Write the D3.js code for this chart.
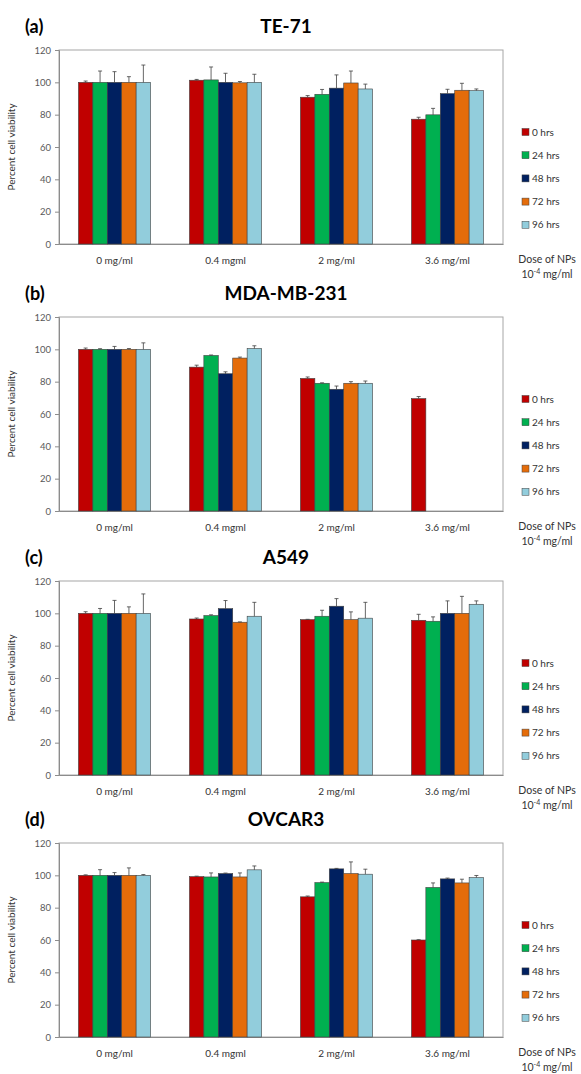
<!DOCTYPE html>
<html>
<head>
<meta charset="utf-8">
<script src="https://cdn.jsdelivr.net/npm/d3@7"></script>
<style>
  body { margin: 0; background: white; }
  svg { display: block; font-family: Lato, "Open Sans", sans-serif; }
</style>
</head>
<body>
<div id="chart"></div>
<script>
// categories
const doses = ["0 mg/ml", "0.4 mgml", "2 mg/ml", "3.6 mg/ml"]
const series = ["0 hrs", "24 hrs", "48 hrs", "72 hrs", "96 hrs"]
const colors = ["#c00000", "#00b050", "#002060", "#e46c0a", "#92cddc"]
const yTicks = [0, 20, 40, 60, 80, 100, 120]

// values: one row per dose, one column per series
const te71Values = [[100, 100, 100, 100, 100], [101.3, 101.5, 100, 99.7, 100], [90.8, 92.6, 96.4, 99.6, 95.9], [77.2, 79.9, 93, 95.1, 94.9]]
const te71Errors = [[0.8, 7, 6.6, 3.5, 10.7], [0.5, 8, 5.6, 0.8, 5], [1, 3, 8.2, 7.4, 3], [1.2, 4, 2.7, 4.3, 1]]

const mdaValues = [[100, 100, 100, 100, 100], [89, 96.2, 84.9, 94.6, 100.5], [82, 79, 75.3, 79, 79], [69.5, 0, 0, 0, 0]]
const mdaErrors = [[0.8, 0.4, 1.8, 0.5, 4], [1.2, 0.3, 1.2, 0.6, 1.7], [0.9, 0.3, 2, 1, 1.4], [1.3, 0, 0, 0, 0]]

const a549Values = [[100, 100, 100, 100, 100], [96.5, 98.6, 102.9, 94.5, 98.2], [96.1, 98.2, 104.4, 96.1, 97], [95.7, 95.1, 100, 100, 105.6]]
const a549Errors = [[1, 3, 8, 4, 12], [0.6, 0.5, 5, 0.2, 8.6], [0.2, 3.7, 4.7, 4.8, 9.8], [3.7, 2.7, 7.7, 10.5, 2.1]]

const ovcarValues = [[100, 100, 100, 100, 100], [99.2, 99, 101.1, 99, 103.4], [86.7, 95.5, 104, 101.1, 100.7], [60, 92.5, 97.8, 95.3, 98.6]]
const ovcarErrors = [[0.3, 3.5, 1.7, 4.6, 0.5], [0.3, 2.5, 0.3, 2.5, 2.4], [0.5, 0.3, 0.3, 7.2, 3.1], [0.2, 2.8, 0.5, 2.3, 1.3]]

const panels = [
  { letter: "(a)", title: "TE-71", top: 50, values: te71Values, errors: te71Errors },
  { letter: "(b)", title: "MDA-MB-231", top: 317, values: mdaValues, errors: mdaErrors },
  { letter: "(c)", title: "A549", top: 581, values: a549Values, errors: a549Errors },
  { letter: "(d)", title: "OVCAR3", top: 843, values: ovcarValues, errors: ovcarErrors }
]

const Width = 581, Height = 1074
const plotLeft = 59, plotRight = 503, plotHeight = 194

const svg = d3.select("#chart").append("svg")
  .attr("width", Width)
  .attr("height", Height)

const x0 = d3.scaleBand()
  .domain(doses)
  .range([plotLeft, plotRight])
  .paddingInner(0.35)
  .paddingOuter(0.175)

const x1 = d3.scaleBand()
  .domain(series)
  .range([0, x0.bandwidth()])

const drawPanel = (p) => {
  const g = svg.append("g")
  const y = d3.scaleLinear().domain([0, 120]).range([p.top + plotHeight, p.top])
  const bottom = p.top + plotHeight

  // 标题
  g.append("text")
    .attr("x", 25).attr("y", p.top - 17)
    .style("font-size", "18px").style("font-weight", "bold")
    .text(p.letter)
  g.append("text")
    .attr("x", 286).attr("y", p.top - 17)
    .attr("text-anchor", "middle")
    .style("font-size", "19px").style("font-weight", "bold")
    .text(p.title)

  // 边框
  g.append("rect")
    .attr("x", plotLeft).attr("y", p.top)
    .attr("width", plotRight - plotLeft).attr("height", plotHeight)
    .attr("fill", "none").attr("stroke", "#a6a6a6")

  // y 轴
  const yAxis = g.append("g")
    .attr("transform", `translate(${plotLeft},0)`)
    .call(d3.axisLeft(y).tickValues(yTicks).tickSize(4).tickPadding(4))
  yAxis.select(".domain").attr("stroke", "#8c8c8c")
  yAxis.selectAll(".tick line").attr("stroke", "#8c8c8c")
  yAxis.selectAll("text").style("font-size", "9.5px").attr("fill", "#595959").style("font-family", "Lato, sans-serif")

  g.append("text")
    .attr("transform", `translate(15,${p.top + plotHeight / 2}) rotate(-90)`)
    .attr("text-anchor", "middle")
    .style("font-size", "10px").attr("fill", "#333")
    .text("Percent cell viability")

  // x 轴
  const xAxis = g.append("g")
    .attr("transform", `translate(0,${bottom})`)
    .call(d3.axisBottom(x0).tickSize(0).tickPadding(13))
  xAxis.select(".domain").attr("stroke", "#8c8c8c")
  xAxis.selectAll("text").style("font-size", "10px").attr("fill", "#333").style("font-family", "Lato, sans-serif")

  // 柱子
  const groups = g.selectAll(".grp")
    .data(p.values.map((row, i) => ({ dose: doses[i], row, err: p.errors[i] })))
    .enter().append("g")
    .attr("transform", d => `translate(${x0(d.dose)},0)`)

  groups.selectAll("rect")
    .data(d => d.row.map((v, j) => ({ s: series[j], v, e: d.err[j], c: colors[j] })))
    .enter().append("rect")
    .attr("x", d => x1(d.s))
    .attr("y", d => y(d.v))
    .attr("width", x1.bandwidth())
    .attr("height", d => bottom - y(d.v))
    .attr("fill", d => d.c)
    .attr("stroke", d => d.v > 0 ? "#404040" : d.c)
    .attr("stroke-opacity", d => d.v > 0 ? 1 : 0.5)
    .attr("stroke-width", d => d.v > 0 ? 0.6 : 1)

  // 误差线（只画上半部分）
  const errs = groups.selectAll(".err")
    .data(d => d.row.map((v, j) => ({ s: series[j], v, e: d.err[j] })).filter(d => d.v > 0))
    .enter().append("g")
  errs.append("line")
    .attr("x1", d => x1(d.s) + x1.bandwidth() / 2)
    .attr("x2", d => x1(d.s) + x1.bandwidth() / 2)
    .attr("y1", d => y(d.v))
    .attr("y2", d => y(d.v + d.e))
    .attr("stroke", "#404040").attr("stroke-width", 0.8)
  errs.append("line")
    .attr("x1", d => x1(d.s) + x1.bandwidth() / 2 - 2)
    .attr("x2", d => x1(d.s) + x1.bandwidth() / 2 + 2)
    .attr("y1", d => y(d.v + d.e))
    .attr("y2", d => y(d.v + d.e))
    .attr("stroke", "#404040").attr("stroke-width", 0.8)

  // 图例
  const legend = g.selectAll(".leg")
    .data(series)
    .enter().append("g")
    .attr("transform", (d, i) => `translate(522,${p.top + 82 + i * 23.2})`)
  legend.append("rect")
    .attr("x", 0).attr("y", -3.5)
    .attr("width", 7).attr("height", 7)
    .attr("fill", (d, i) => colors[i])
    .attr("stroke", "#404040").attr("stroke-width", 0.5)
  legend.append("text")
    .attr("x", 10).attr("y", 3.5)
    .style("font-size", "10px").attr("fill", "#333")
    .text(d => d)

  // x 轴标题
  g.append("text")
    .attr("x", 547).attr("y", bottom + 19)
    .attr("text-anchor", "middle")
    .style("font-size", "10.5px").attr("fill", "#333")
    .text("Dose of NPs")
  const unit = g.append("text")
    .attr("x", 547).attr("y", bottom + 34)
    .attr("text-anchor", "middle")
    .style("font-size", "10.5px").attr("fill", "#333")
  unit.append("tspan").text("10")
  unit.append("tspan").attr("dy", -4).style("font-size", "7px").text("-4")
  unit.append("tspan").attr("dy", 4).text(" mg/ml")
}

panels.forEach(drawPanel)
</script>
</body>
</html>
